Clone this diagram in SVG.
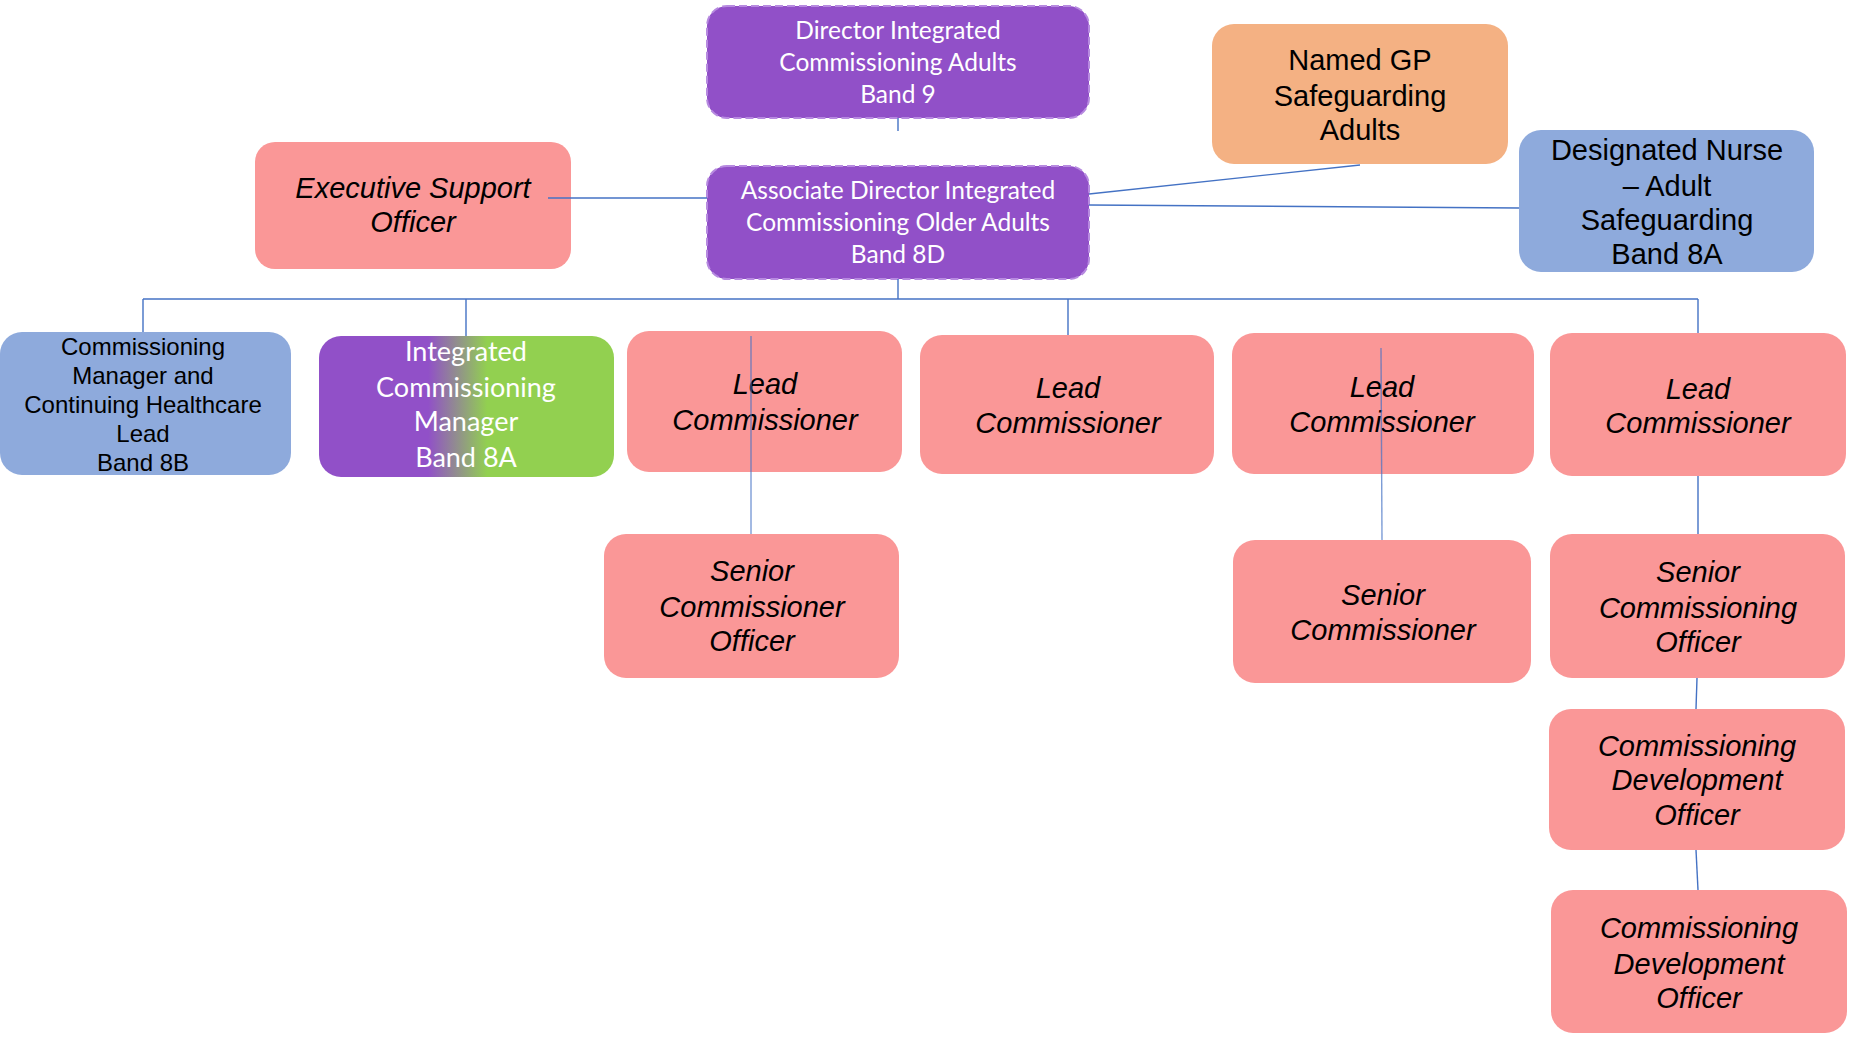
<svg xmlns="http://www.w3.org/2000/svg" width="1854" height="1037" viewBox="0 0 1854 1037">
<defs>
<style>
.pink{fill:#fa9797}
.blue{fill:#8eaadc}
.orange{fill:#f4b183}
.purple{fill:#9150c8;stroke:#b78ae0;stroke-width:2;stroke-dasharray:8 4}
.cal{font-family:Lato,"Open Sans",sans-serif;fill:#ffffff;text-anchor:middle}
.ar{font-family:"Liberation Sans",Arial,sans-serif;fill:#000;text-anchor:middle}
.it{font-family:"Liberation Sans",Arial,sans-serif;font-style:italic;fill:#000;text-anchor:middle;font-size:29px}
.con line{stroke:#4472c4;stroke-width:1.4;fill:none}
</style>
<linearGradient id="pg" x1="0" y1="0" x2="1" y2="0">
<stop offset="0" stop-color="#9150c8"/>
<stop offset="0.37" stop-color="#9150c8"/>
<stop offset="0.57" stop-color="#92d050"/>
<stop offset="1" stop-color="#92d050"/>
</linearGradient>
</defs>
<rect width="1854" height="1037" fill="#ffffff"/>

<g id="director">
<rect class="purple" x="707" y="6" width="382" height="112" rx="20"/>
<text class="cal" font-size="24.5"><tspan x="898" y="39">Director Integrated</tspan><tspan x="898" y="71">Commissioning Adults</tspan><tspan x="898" y="103">Band 9</tspan></text>
</g>
<g id="associate">
<rect class="purple" x="707" y="166" width="382" height="113" rx="20"/>
<text class="cal" font-size="24.5"><tspan x="898" y="199">Associate Director Integrated</tspan><tspan x="898" y="231">Commissioning Older Adults</tspan><tspan x="898" y="263">Band 8D</tspan></text>
</g>
<g id="exec">
<rect class="pink" x="255" y="142" width="316" height="127" rx="20"/>
<text class="it" font-size="26"><tspan x="413" y="198">Executive Support</tspan><tspan x="413" y="232">Officer</tspan></text>
</g>
<g id="namedgp">
<rect class="orange" x="1212" y="24" width="296" height="140" rx="22"/>
<text class="ar" font-size="29"><tspan x="1360" y="70">Named GP</tspan><tspan x="1360" y="106">Safeguarding</tspan><tspan x="1360" y="140">Adults</tspan></text>
</g>
<g id="designated">
<rect class="blue" x="1519" y="130" width="295" height="142" rx="22"/>
<text class="ar" font-size="29"><tspan x="1667" y="160">Designated Nurse</tspan><tspan x="1667" y="196">– Adult</tspan><tspan x="1667" y="230">Safeguarding</tspan><tspan x="1667" y="264">Band 8A</tspan></text>
</g>
<g id="cmchl">
<rect class="blue" x="0" y="332" width="291" height="143" rx="22"/>
<text class="ar" font-size="24"><tspan x="143" y="355">Commissioning</tspan><tspan x="143" y="384">Manager and</tspan><tspan x="143" y="413">Continuing Healthcare</tspan><tspan x="143" y="442">Lead</tspan><tspan x="143" y="471">Band 8B</tspan></text>
</g>
<g id="icm">
<rect fill="url(#pg)" x="319" y="336" width="295" height="141" rx="22"/>
<text class="cal" font-size="27"><tspan x="466" y="361">Integrated</tspan><tspan x="466" y="397">Commissioning</tspan><tspan x="466" y="431">Manager</tspan><tspan x="466" y="467">Band 8A</tspan></text>
</g>
<g id="lead1">
<rect class="pink" x="627" y="331" width="275" height="141" rx="22"/>
<text class="it"><tspan x="765" y="394">Lead</tspan><tspan x="765" y="430">Commissioner</tspan></text>
</g>
<g id="lead2">
<rect class="pink" x="920" y="335" width="294" height="139" rx="22"/>
<text class="it"><tspan x="1068" y="398">Lead</tspan><tspan x="1068" y="433">Commissioner</tspan></text>
</g>
<g id="lead3">
<rect class="pink" x="1232" y="333" width="302" height="141" rx="22"/>
<text class="it"><tspan x="1382" y="397">Lead</tspan><tspan x="1382" y="432">Commissioner</tspan></text>
</g>
<g id="lead4">
<rect class="pink" x="1550" y="333" width="296" height="143" rx="22"/>
<text class="it"><tspan x="1698" y="399">Lead</tspan><tspan x="1698" y="433">Commissioner</tspan></text>
</g>
<g id="sco1">
<rect class="pink" x="604" y="534" width="295" height="144" rx="22"/>
<text class="it"><tspan x="752" y="581">Senior</tspan><tspan x="752" y="617">Commissioner</tspan><tspan x="752" y="651">Officer</tspan></text>
</g>
<g id="sc3">
<rect class="pink" x="1233" y="540" width="298" height="143" rx="22"/>
<text class="it"><tspan x="1383" y="605">Senior</tspan><tspan x="1383" y="640">Commissioner</tspan></text>
</g>
<g id="sco4">
<rect class="pink" x="1550" y="534" width="295" height="144" rx="22"/>
<text class="it"><tspan x="1698" y="582">Senior</tspan><tspan x="1698" y="618">Commissioning</tspan><tspan x="1698" y="652">Officer</tspan></text>
</g>
<g id="cdo1">
<rect class="pink" x="1549" y="709" width="296" height="141" rx="22"/>
<text class="it"><tspan x="1697" y="756">Commissioning</tspan><tspan x="1697" y="790">Development</tspan><tspan x="1697" y="825">Officer</tspan></text>
</g>
<g id="cdo2">
<rect class="pink" x="1551" y="890" width="296" height="143" rx="22"/>
<text class="it"><tspan x="1699" y="938">Commissioning</tspan><tspan x="1699" y="974">Development</tspan><tspan x="1699" y="1008">Officer</tspan></text>
</g>

<g id="connectors" class="con">
<line x1="898" y1="118" x2="898" y2="131"/>
<line x1="898" y1="279" x2="898" y2="299"/>
<line x1="548" y1="198" x2="707" y2="198"/>
<line x1="1089" y1="194" x2="1360" y2="165"/>
<line x1="1089" y1="205" x2="1519" y2="208"/>
<line x1="143" y1="299" x2="1698" y2="299"/>
<line x1="143" y1="299" x2="143" y2="332"/>
<line x1="466" y1="299" x2="466" y2="336"/>
<line x1="1068" y1="299" x2="1068" y2="335"/>
<line x1="1698" y1="299" x2="1698" y2="333"/>
<line x1="751" y1="336" x2="751" y2="534" stroke-opacity="0.7"/>
<line x1="1381" y1="348" x2="1382" y2="540" stroke-opacity="0.7"/>
<line x1="1698" y1="476" x2="1698" y2="534"/>
<line x1="1697" y1="678" x2="1696" y2="709"/>
<line x1="1696" y1="850" x2="1698" y2="890"/>
</g>
</svg>
